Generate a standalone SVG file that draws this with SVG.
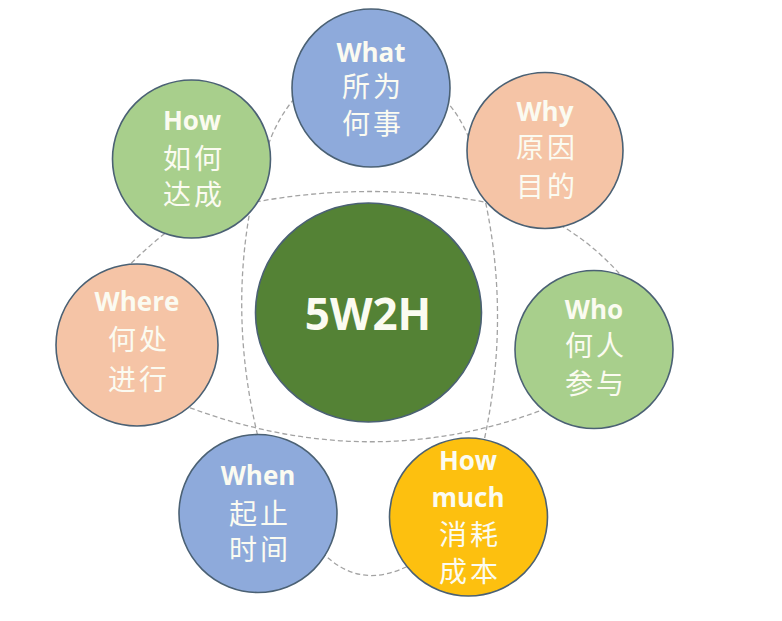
<svg xmlns="http://www.w3.org/2000/svg" width="782" height="621" viewBox="0 0 782 621">
<style>
.bg{fill:#ffffff}
.dash{fill:none;stroke:#a3a3a3;stroke-width:1.3;stroke-dasharray:5 3}
.node{stroke:#4b6174;stroke-width:1.6}
.blue{fill:#8eaadb}
.salmon{fill:#f5c4a6}
.lgreen{fill:#a8cf8c}
.yellow{fill:#fdc00f}
.dgreen{fill:#548235}
.en{font-family:"Open Sans","Noto Sans",sans-serif;font-weight:700;font-size:26px;fill:#fbfbf1;text-anchor:middle}
.zh{font-family:"Noto Sans CJK SC","Noto Sans",sans-serif;font-size:28px;fill:#fbfbf1;text-anchor:middle;letter-spacing:3px}
.title{font-family:"Open Sans","Noto Sans",sans-serif;font-weight:700;font-size:44px;fill:#fbfbf1;text-anchor:middle}
</style>
<rect class="bg" x="0" y="0" width="782" height="621"/>
<g id="connectors">
<path class="dash" d="M240,205 Q370,178 500,205"/>
<path class="dash" d="M252,200 Q228,320 260,445"/>
<path class="dash" d="M484,195 Q512,320 482,450"/>
<path class="dash" d="M175,402 Q370,480 555,405"/>
<path class="dash" d="M266,152 Q276,118 300,92"/>
<path class="dash" d="M445,100 Q460,115 472,145"/>
<path class="dash" d="M560,225 Q595,245 625,280"/>
<path class="dash" d="M322,552 Q360,592 412,564"/>
<path class="dash" d="M120,275 Q145,248 172,228"/>
</g>
<g id="center">
<ellipse class="node dgreen" cx="368.5" cy="312.5" rx="113" ry="109.5"/>
<text class="title" x="368" y="330">5W2H</text>
</g>
<g id="what">
<circle class="node blue" cx="371" cy="88" r="79"/>
<text class="en" x="371" y="62">What</text>
<text class="zh" x="373" y="97">所为</text>
<text class="zh" x="373" y="134">何事</text>
</g>
<g id="why">
<circle class="node salmon" cx="545" cy="150.5" r="78"/>
<text class="en" x="545" y="121">Why</text>
<text class="zh" x="547" y="158">原因</text>
<text class="zh" x="547" y="197">目的</text>
</g>
<g id="who">
<circle class="node lgreen" cx="594" cy="349.5" r="79"/>
<text class="en" x="594" y="319">Who</text>
<text class="zh" x="596" y="356">何人</text>
<text class="zh" x="596" y="394">参与</text>
</g>
<g id="howmuch">
<circle class="node yellow" cx="468.5" cy="517" r="79"/>
<text class="en" x="468" y="470">How</text>
<text class="en" x="468" y="507">much</text>
<text class="zh" x="470" y="545">消耗</text>
<text class="zh" x="470" y="582">成本</text>
</g>
<g id="when">
<circle class="node blue" cx="258" cy="513.5" r="79"/>
<text class="en" x="258" y="485">When</text>
<text class="zh" x="260" y="524">起止</text>
<text class="zh" x="260" y="560">时间</text>
</g>
<g id="where">
<circle class="node salmon" cx="137" cy="345" r="81"/>
<text class="en" x="137" y="311">Where</text>
<text class="zh" x="139" y="350">何处</text>
<text class="zh" x="139" y="390">进行</text>
</g>
<g id="how">
<circle class="node lgreen" cx="191.5" cy="159" r="79"/>
<text class="en" x="192" y="130">How</text>
<text class="zh" x="194" y="169">如何</text>
<text class="zh" x="194" y="205">达成</text>
</g>
</svg>
